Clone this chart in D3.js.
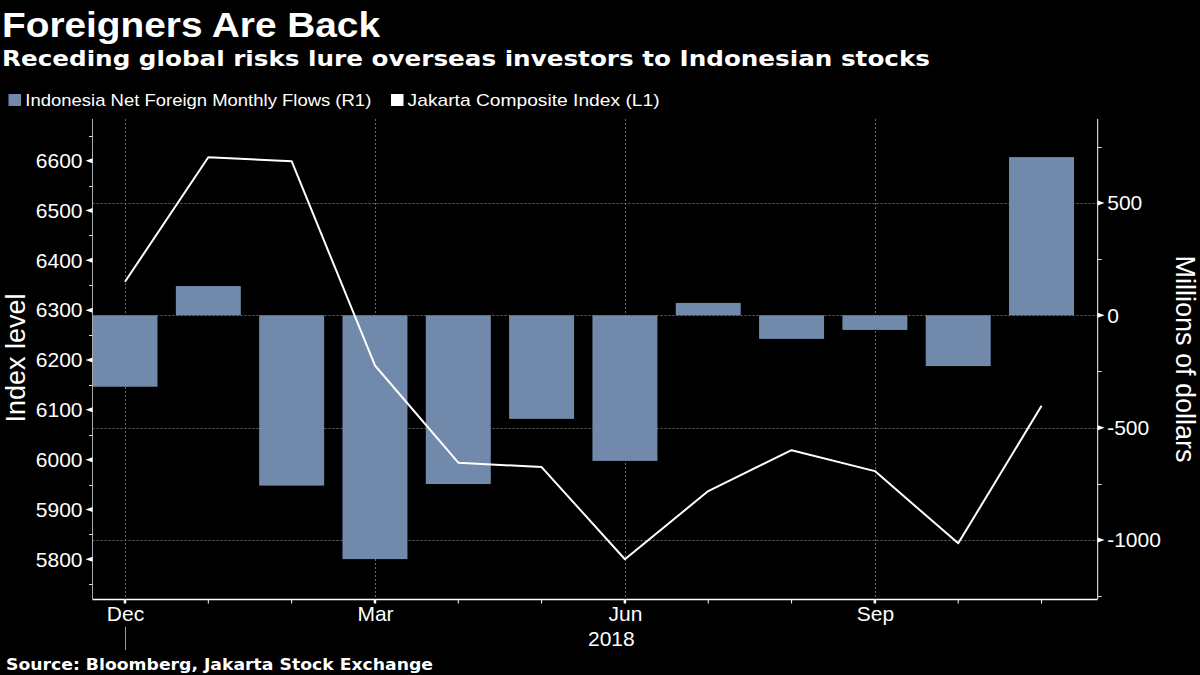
<!DOCTYPE html>
<html>
<head>
<meta charset="utf-8">
<script src="https://cdn.jsdelivr.net/npm/d3@7"></script>
<style>
  html, body { margin: 0; padding: 0; background: #000; }
  svg { display: block; }
</style>
</head>
<body>
<script>
// ---------------- DATA ----------------
const months = ["Dec","Jan","Feb","Mar","Apr","May","Jun","Jul","Aug","Sep","Oct","Nov"];
const flows = [-318, 130, -758, -1085, -751, -461, -648, 55, -105, -65, -226, 704]; // millions USD (R1)
const jci = [6357, 6607, 6599, 6189, 5994, 5985, 5800, 5937, 6019, 5977, 5832, 6108]; // index level (L1)
const leftTicks = [5800, 5900, 6000, 6100, 6200, 6300, 6400, 6500, 6600];
const leftMinor = [5750, 5850, 5950, 6050, 6150, 6250, 6350, 6450, 6550, 6650];
const rightTicks = [-1000, -500, 0, 500];
const rightMinor = [-1250, -750, -250, 250, 750];
const xLabelIdx = [0, 3, 6, 9];
const yearLabel = "2018";

// ---------------- LAYOUT ----------------
const W = 1200, H = 675;
const plot = { left: 92.5, right: 1097.7, top: 119, bottom: 599 };
const barColor = "#7189aa";
const tickFont = "'Liberation Sans', Arial, sans-serif";

const svg = d3.select("body").append("svg").attr("width", W).attr("height", H)
  .style("background", "#000");

const x = d3.scaleLinear().domain([-0.39, 11.674]).range([plot.left, plot.right]);
const yL = d3.scaleLinear().domain([5720.3, 6683.7]).range([plot.bottom, plot.top]);
const yR = d3.scaleLinear().domain([-1262.6, 873.6]).range([plot.bottom, plot.top]);

// ---------------- TITLES ----------------
svg.append("text").attr("x", 2).attr("y", 36.5)
  .attr("fill", "#fff").attr("font-family", "'Liberation Sans', Arial, sans-serif")
  .attr("font-weight", "bold").attr("font-size", 35)
  .attr("textLength", 378).attr("lengthAdjust", "spacingAndGlyphs")
  .text("Foreigners Are Back");

svg.append("text").attr("x", 2).attr("y", 65.5)
  .attr("fill", "#fff").attr("font-family", "'DejaVu Sans', sans-serif")
  .attr("font-weight", "bold").attr("font-size", 21)
  .attr("textLength", 928).attr("lengthAdjust", "spacingAndGlyphs")
  .text("Receding global risks lure overseas investors to Indonesian stocks");

// ---------------- LEGEND ----------------
const legendFont = 17;
svg.append("rect").attr("x", 8.5).attr("y", 94).attr("width", 12.5).attr("height", 12).attr("fill", barColor);
svg.append("text").attr("x", 25.3).attr("y", 106)
  .attr("fill", "#fff").attr("font-family", tickFont).attr("font-size", legendFont)
  .attr("textLength", 346).attr("lengthAdjust", "spacingAndGlyphs")
  .text("Indonesia Net Foreign Monthly Flows (R1)");
svg.append("rect").attr("x", 391).attr("y", 94).attr("width", 12.5).attr("height", 12).attr("fill", "#fff");
svg.append("text").attr("x", 407.6).attr("y", 106)
  .attr("fill", "#fff").attr("font-family", tickFont).attr("font-size", legendFont)
  .attr("textLength", 252).attr("lengthAdjust", "spacingAndGlyphs")
  .text("Jakarta Composite Index (L1)");

// ---------------- GRID ----------------
const grid = svg.append("g").attr("stroke", "#6a6a6a").attr("stroke-width", 1).attr("stroke-dasharray", "2,2");
rightTicks.forEach(v => {
  grid.append("line").attr("x1", plot.left).attr("x2", plot.right)
    .attr("y1", Math.round(yR(v)) + 0.5).attr("y2", Math.round(yR(v)) + 0.5);
});
xLabelIdx.forEach(i => {
  grid.append("line").attr("y1", plot.top).attr("y2", plot.bottom)
    .attr("x1", Math.round(x(i)) + 0.5).attr("x2", Math.round(x(i)) + 0.5);
});

// ---------------- BARS ----------------
const bw = (x(1) - x(0)) * 0.78;
svg.append("g").selectAll("rect").data(flows).join("rect")
  .attr("x", (d, i) => x(i) - bw / 2)
  .attr("width", bw)
  .attr("y", d => yR(Math.max(0, d)))
  .attr("height", d => Math.abs(yR(d) - yR(0)))
  .attr("fill", barColor);

// ---------------- LINE ----------------
const line = d3.line().x((d, i) => x(i)).y(d => yL(d));
svg.append("path").datum(jci).attr("d", line)
  .attr("fill", "none").attr("stroke", "#fff").attr("stroke-width", 2)
  .attr("stroke-linejoin", "round");

// ---------------- AXES ----------------
// Left axis
const gL = svg.append("g").attr("transform", `translate(${plot.left},0)`)
  .call(d3.axisLeft(yL).tickValues(leftTicks).tickSize(0).tickPadding(10).tickFormat(d => String(d)));
gL.select(".domain").remove();
gL.selectAll("text").attr("fill", "#fff").attr("font-family", tickFont).attr("font-size", 21);
gL.append("line").attr("x1", 0).attr("x2", 0).attr("y1", plot.top).attr("y2", plot.bottom)
  .attr("stroke", "#aaa").attr("stroke-width", 1);
leftTicks.forEach(v => {
  const y = yL(v);
  gL.append("path").attr("d", `M0,${y - 2.5} L-7,${y} L0,${y + 2.5} Z`).attr("fill", "#fff");
});
leftMinor.forEach(v => {
  const y = Math.round(yL(v)) + 0.5;
  gL.append("line").attr("x1", -3.5).attr("x2", 0).attr("y1", y).attr("y2", y).attr("stroke", "#ddd");
});

// Right axis
const gR = svg.append("g").attr("transform", `translate(${plot.right},0)`)
  .call(d3.axisRight(yR).tickValues(rightTicks).tickSize(0).tickPadding(9.5).tickFormat(d => String(d)));
gR.select(".domain").remove();
gR.selectAll("text").attr("fill", "#fff").attr("font-family", tickFont).attr("font-size", 21);
gR.append("line").attr("x1", 0).attr("x2", 0).attr("y1", plot.top).attr("y2", plot.bottom)
  .attr("stroke", "#fff").attr("stroke-width", 1);
rightTicks.forEach(v => {
  const y = yR(v);
  gR.append("path").attr("d", `M0,${y - 2.5} L7,${y} L0,${y + 2.5} Z`).attr("fill", "#fff");
});
rightMinor.forEach(v => {
  const y = Math.round(yR(v)) + 0.5;
  gR.append("line").attr("x1", 0).attr("x2", 4).attr("y1", y).attr("y2", y).attr("stroke", "#ddd");
});

// Bottom axis
const gB = svg.append("g").attr("transform", `translate(0,${plot.bottom})`)
  .call(d3.axisBottom(x).tickValues(xLabelIdx).tickSize(0).tickPadding(7).tickFormat(i => months[i]));
gB.select(".domain").remove();
gB.selectAll("text").attr("fill", "#fff").attr("font-family", tickFont).attr("font-size", 21);
gB.append("line").attr("x1", plot.left).attr("x2", plot.right).attr("y1", 0.5).attr("y2", 0.5)
  .attr("stroke", "#fff").attr("stroke-width", 1.5);
months.forEach((m, i) => {
  const major = xLabelIdx.includes(i);
  gB.append("line").attr("x1", x(i)).attr("x2", x(i)).attr("y1", 0).attr("y2", 4.5)
    .attr("stroke", "#fff").attr("stroke-width", major ? 2.5 : 1);
});
// year separator + label
gB.append("line").attr("x1", Math.round(x(0)) + 0.5).attr("x2", Math.round(x(0)) + 0.5)
  .attr("y1", 28).attr("y2", 51).attr("stroke", "#999").attr("stroke-width", 1);
gB.append("text").attr("x", (x(0) + plot.right) / 2).attr("y", 46.5)
  .attr("text-anchor", "middle").attr("fill", "#fff")
  .attr("font-family", tickFont).attr("font-size", 21).text(yearLabel);

// Axis titles
svg.append("text").attr("transform", `translate(25,358) rotate(-90)`)
  .attr("text-anchor", "middle").attr("fill", "#fff")
  .attr("font-family", tickFont).attr("font-size", 27).text("Index level");
svg.append("text").attr("transform", `translate(1176,359) rotate(90)`)
  .attr("text-anchor", "middle").attr("fill", "#fff")
  .attr("font-family", tickFont).attr("font-size", 27).text("Millions of dollars");

// ---------------- SOURCE ----------------
svg.append("text").attr("x", 6).attr("y", 669.5)
  .attr("fill", "#fff").attr("font-family", "'DejaVu Sans', sans-serif")
  .attr("font-weight", "bold").attr("font-size", 15)
  .attr("textLength", 427).attr("lengthAdjust", "spacingAndGlyphs")
  .text("Source: Bloomberg, Jakarta Stock Exchange");
</script>
</body>
</html>
